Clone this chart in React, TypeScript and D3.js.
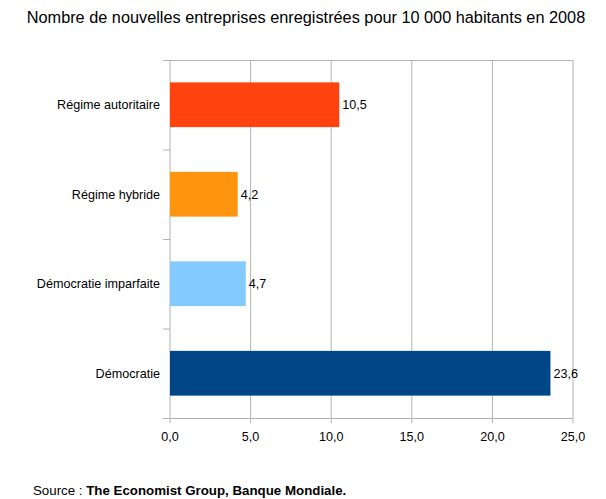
import React from "react";
import * as d3 from "d3";

const categories = ["Régime autoritaire", "Régime hybride", "Démocratie imparfaite", "Démocratie"];
const values = [10.5, 4.2, 4.7, 23.6];
const colors = ["#ff420e", "#ff950e", "#83caff", "#004586"];
const xTicks = [0, 5, 10, 15, 20, 25];

export default function App() {
  const W = 606, H = 499;
  const x = d3.scaleLinear().domain([0, 25]).range([170, 573]);
  const y = d3.scaleBand().domain(categories).range([60, 418]).paddingInner(0.5).paddingOuter(0.25);
  const fmt = (v: number) => v.toFixed(1).replace(".", ",");
  const font = "'Liberation Sans', Arial, sans-serif";
  const step = y.step();
  return (
    <svg width={W} height={H} style={{ position: "absolute", left: 0, top: 0 }} fontFamily={font}>
      <rect width={W} height={H} fill="#fff" />
      <text x={306} y={23} textAnchor="middle" fontSize={16.3} fill="#000">
        Nombre de nouvelles entreprises enregistrées pour 10 000 habitants en 2008
      </text>
      {xTicks.map((t) => (
        <line key={t} x1={x(t)} x2={x(t)} y1={60} y2={423} stroke="#b3b3b3" strokeWidth={1} />
      ))}
      <line x1={163} x2={573} y1={60.5} y2={60.5} stroke="#b3b3b3" />
      <line x1={163} x2={573} y1={418.5} y2={418.5} stroke="#b3b3b3" />
      {categories.map((c, i) => (
        <line key={"t" + i} x1={163} x2={170} y1={60.5 + step * i} y2={60.5 + step * i} stroke="#b3b3b3" />
      ))}
      {categories.map((c, i) => (
        <g key={c}>
          <rect x={x(0)} y={y(c)!} width={x(values[i]) - x(0)} height={y.bandwidth()} fill={colors[i]} />
          <text x={160} y={y(c)! + y.bandwidth() / 2} dy="0.35em" textAnchor="end" fontSize={12.6} fill="#000">{c}</text>
          <text x={x(values[i]) + 3} y={y(c)! + y.bandwidth() / 2} dy="0.35em" fontSize={12.6} fill="#000">{fmt(values[i])}</text>
        </g>
      ))}
      {xTicks.map((t) => (
        <text key={"l" + t} x={x(t)} y={441} textAnchor="middle" fontSize={12.6} fill="#000">{fmt(t)}</text>
      ))}
      <text x={33} y={495} fontSize={13.3} fill="#000">
        Source : <tspan fontWeight="bold">The Economist Group, Banque Mondiale.</tspan>
      </text>
    </svg>
  );
}
